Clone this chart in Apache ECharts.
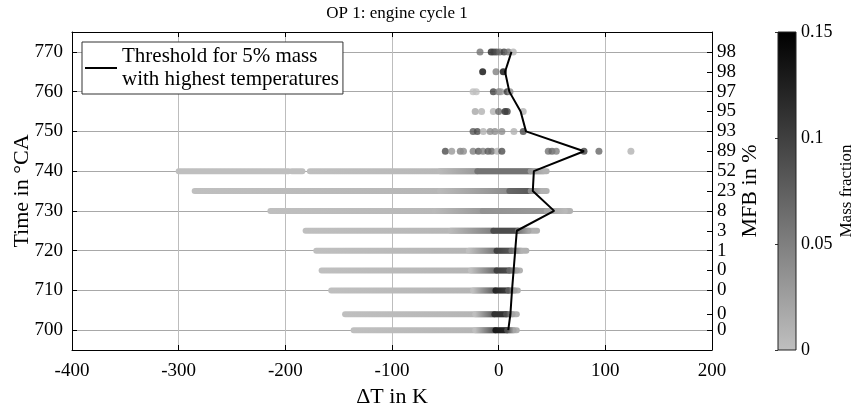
<!DOCTYPE html>
<html><head><meta charset="utf-8">
<script src="https://cdn.jsdelivr.net/npm/echarts@6/dist/echarts.min.js"></script>
<style>html,body{margin:0;padding:0;background:#fff}#c{width:861px;height:410px}</style>
</head><body><div id="c"></div>
<script>
// crank-angle rows (°CA)
const rows = [700, 704, 710, 715, 720, 725, 730, 735, 740, 745, 750, 755, 760, 765, 770];
// mass fraction burned labels (right axis)
const mfbLabels = ['0', '0', '0', '0', '1', '3', '8', '23', '52', '89', '93', '95', '97', '98', '98'];
// threshold ΔT for 5% mass with highest temperatures
const threshold = [9, 11, 12.5, 14, 15.5, 17, 52, 32, 33, 80, 25.6, 20.6, 10, 6, 12];
// dense rows drawn as strips: [row °CA, ΔT from, ΔT to, mass fraction at start, at end]
const strips = [
  [700, -136, 17, 0, 0.01], [700, -22, -3, 0, 0.09], [700, -3, 8, 0.13, 0.12], [700, 8, 14, 0.09, 0.02],
  [704, -144, 17, 0, 0.01], [704, -22, -4, 0, 0.08], [704, -4, 7, 0.11, 0.11], [704, 7, 13, 0.09, 0.02],
  [710, -157, 18, 0, 0.01], [710, -24, -3, 0, 0.08], [710, -3, 9, 0.12, 0.1], [710, 9, 15, 0.08, 0.02],
  [715, -166, 20, 0, 0.01], [715, -26, -2, 0, 0.07], [715, -2, 10, 0.1, 0.09], [715, 10, 17, 0.07, 0.02],
  [720, -171, 26, 0, 0.01], [720, -28, -2, 0, 0.06], [720, -2, 12, 0.1, 0.08], [720, 12, 21, 0.06, 0.01],
  [725, -181, 36, 0, 0.01], [725, -45, -5, 0.005, 0.05], [725, -5, 18, 0.09, 0.09], [725, 18, 28, 0.06, 0.02],
  [730, -214, 67, 0, 0.01], [730, -60, -15, 0.005, 0.03], [730, -15, 45, 0.035, 0.03], [730, 45, 62, 0.02, 0.005],
  [735, -285, 45, 0, 0.01], [735, -55, 10, 0.005, 0.04], [735, 10, 30, 0.07, 0.08], [735, 30, 40, 0.04, 0.01],
  [740, -300, -197, 0, 0], [740, -194, -184, 0, 0], [740, -177, 45, 0, 0.01],
  [740, -55, -20, 0.005, 0.03], [740, -20, 30, 0.06, 0.06], [740, 30, 42, 0.03, 0.01]
];
// sparse rows drawn as single dots: [row °CA, ΔT, mass fraction]
const dots = [
  [745, -50, 0.09], [745, -44, 0.03], [745, -36, 0.05], [745, -33, 0.04], [745, -24, 0.05], [745, -19, 0.08],
  [745, -14.7, 0.05], [745, -10, 0.08], [745, -6.5, 0.07], [745, -1.3, 0.01], [745, 3, 0.09],
  [745, 46.5, 0.06], [745, 50, 0.07], [745, 54, 0.05], [745, 80, 0.1], [745, 94, 0.07], [745, 124, 0.01],
  [750, -24, 0.08], [750, -20, 0.09], [750, -14.4, 0.01], [750, -8, 0.04], [750, -3.5, 0.04], [750, 3, 0.04],
  [750, 14.3, 0.01], [750, 23, 0.09],
  [755, -22, 0.02], [755, -16, 0.01], [755, -5, 0.01], [755, 0, 0.07], [755, 6, 0.12], [755, 8, 0.1], [755, 23, 0.01],
  [760, -24, 0], [760, -21, 0], [760, -5, 0.1], [760, 0, 0.05], [760, 2, 0.03], [760, 8, 0.11], [760, 10.6, 0.04],
  [765, -15, 0.14], [765, -2.5, 0.05], [765, 4.3, 0.14],
  [770, -17.5, 0.06], [770, -7, 0.12], [770, -4.5, 0.1], [770, -2, 0.09], [770, 1, 0.07], [770, 5, 0.1],
  [770, 9, 0.06], [770, 13.7, 0.01]
];
const xTicks = { min: -400, max: 200, step: 100 };
const yRange = { min: 695, max: 775 };
const colorbarRange = [0, 0.15];

const FONT = 'Liberation Serif';
const LIGHT = 191;
function mfColor(m) {
  const g = Math.round(LIGHT * (1 - Math.max(0, Math.min(m, 0.15)) / 0.15));
  return 'rgb(' + g + ',' + g + ',' + g + ')';
}
const lineName = 'Threshold for 5% mass\nwith highest temperatures';
const txt = { fontFamily: FONT, color: '#000' };
// right-hand labels split over two overlaid axes so that none is auto-hidden
const rowsEven = rows.filter(function (r, i) { return i % 2 === 0; });
const rowsOdd = rows.filter(function (r, i) { return i % 2 === 1; });
function mfbFmt(v) { const i = rows.indexOf(v); return i >= 0 ? mfbLabels[i] : ''; }
function rightAxis(vals, main) {
  return {
    type: 'value', gridIndex: 0, position: 'right', offset: 0, min: yRange.min, max: yRange.max,
    axisLine: { show: main, onZero: false, lineStyle: { color: '#000' } },
    axisTick: { show: main, inside: true, length: 5, customValues: rows, lineStyle: { color: '#000' } },
    axisLabel: Object.assign({
      fontSize: 19, margin: 5, customValues: vals, hideOverlap: false,
      showMinLabel: true, showMaxLabel: true, formatter: mfbFmt
    }, txt),
    splitLine: { show: false },
    name: main ? 'MFB in %' : '', nameLocation: 'middle', nameGap: 27, nameRotate: 90, nameMoveOverlap: false,
    nameTextStyle: Object.assign({ fontSize: 22 }, txt)
  };
}

const chart = echarts.init(document.getElementById('c'), null, { renderer: 'canvas' });
chart.setOption({
  animation: false,
  backgroundColor: '#fff',
  title: {
    text: 'OP 1: engine cycle 1', left: 392, top: 0, textAlign: 'center',
    textStyle: Object.assign({ fontSize: 17, fontWeight: 'normal' }, txt)
  },
  legend: {
    data: [lineName], left: 82, top: 42, orient: 'vertical',
    backgroundColor: '#fff', borderColor: '#333', borderWidth: 1, borderRadius: 0,
    padding: [3, 4, 3, 3], itemWidth: 32, itemHeight: 2, icon: 'rect', itemGap: 0,
    textStyle: Object.assign({ fontSize: 21, lineHeight: 23 }, txt)
  },
  grid: [
    { left: 72, top: 32, width: 640, height: 318, outerBoundsMode: 'none', containLabel: false },
    { left: 778, top: 32, width: 18, height: 318, outerBoundsMode: 'none', containLabel: false }
  ],
  xAxis: [
    {
      type: 'value', gridIndex: 0, position: 'bottom', min: xTicks.min, max: xTicks.max, interval: xTicks.step,
      axisLine: { show: true, onZero: false, lineStyle: { color: '#000' } },
      axisTick: { show: true, inside: true, length: 5, lineStyle: { color: '#000' } },
      axisLabel: Object.assign({ fontSize: 19, margin: 12 }, txt),
      splitLine: { show: true, lineStyle: { color: '#bdbdbd', width: 1 } },
      name: 'ΔT in K', nameLocation: 'middle', nameGap: 36,
      nameTextStyle: Object.assign({ fontSize: 22 }, txt)
    },
    {
      type: 'value', gridIndex: 0, position: 'top', min: xTicks.min, max: xTicks.max, interval: xTicks.step,
      axisLine: { show: true, onZero: false, lineStyle: { color: '#000' } },
      axisTick: { show: true, inside: true, length: 5, lineStyle: { color: '#000' } },
      axisLabel: { show: false }, splitLine: { show: false }
    },
    {
      type: 'value', gridIndex: 1, min: 0, max: 1, show: false
    }
  ],
  yAxis: [
    {
      type: 'value', gridIndex: 0, position: 'left', min: yRange.min, max: yRange.max, splitNumber: 8,
      axisLine: { show: true, onZero: false, lineStyle: { color: '#000' } },
      axisTick: { show: true, inside: true, length: 5, lineStyle: { color: '#000' } },
      axisLabel: Object.assign({ fontSize: 19, margin: 9, showMinLabel: false, showMaxLabel: false }, txt),
      splitLine: { show: true, lineStyle: { color: '#a8a8a8', width: 1 } },
      name: 'Time in °CA', nameLocation: 'middle', nameGap: 39, nameRotate: 90, nameMoveOverlap: false,
      nameTextStyle: Object.assign({ fontSize: 22 }, txt)
    },
    rightAxis(rowsEven, true),
    {
      type: 'value', gridIndex: 1, position: 'right', min: colorbarRange[0], max: colorbarRange[1], interval: 0.05,
      axisLine: { show: false },
      axisTick: { show: true, inside: true, length: 3, lineStyle: { color: '#333' } },
      axisLabel: Object.assign({ fontSize: 18, margin: 5, formatter: function (v) { return String(+v.toFixed(2)); } }, txt),
      splitLine: { show: false },
      name: 'Mass fraction', nameLocation: 'middle', nameGap: 42, nameRotate: 90, nameMoveOverlap: false,
      nameTextStyle: Object.assign({ fontSize: 17 }, txt)
    },
    rightAxis(rowsOdd, false)
  ],
  visualMap: [{
    type: 'continuous', show: false, seriesIndex: 1, dimension: 2,
    min: colorbarRange[0], max: colorbarRange[1], inRange: { color: [mfColor(0), '#000000'] }
  }],
  series: [
    {
      type: 'custom', name: 'strips', xAxisIndex: 0, yAxisIndex: 0, clip: true, z: 2,
      dimensions: ['row', 'x1', 'x2', 'm1', 'm2'],
      encode: { x: ['x1', 'x2'], y: 'row' },
      data: strips,
      renderItem: function (params, api) {
        const y = api.value(0), p1 = api.coord([api.value(1), y]), p2 = api.coord([api.value(2), y]);
        return {
          type: 'line',
          shape: { x1: p1[0], y1: p1[1], x2: p2[0], y2: p2[1] },
          style: {
            stroke: {
              type: 'linear', global: true, x: p1[0], y: p1[1], x2: p2[0] + 0.01, y2: p2[1],
              colorStops: [{ offset: 0, color: mfColor(api.value(3)) }, { offset: 1, color: mfColor(api.value(4)) }]
            },
            lineWidth: 6, lineCap: 'round'
          }
        };
      }
    },
    {
      type: 'scatter', name: 'dots', xAxisIndex: 0, yAxisIndex: 0, z: 3,
      symbol: 'circle', symbolSize: 7,
      data: dots.map(function (d) { return [d[1], d[0], d[2]]; })
    },
    {
      type: 'line', name: lineName, xAxisIndex: 0, yAxisIndex: 0, z: 5,
      color: '#000', symbol: 'none', lineStyle: { color: '#000', width: 2 },
      data: rows.map(function (r, i) { return [threshold[i], r]; })
    },
    {
      type: 'custom', name: 'colorbar', xAxisIndex: 2, yAxisIndex: 2,
      data: [colorbarRange],
      renderItem: function (params, api) {
        const a = api.coord([0, api.value(1)]), b = api.coord([1, api.value(0)]);
        return {
          type: 'rect',
          shape: { x: a[0], y: a[1], width: b[0] - a[0], height: b[1] - a[1] },
          style: {
            fill: {
              type: 'linear', global: true, x: 0, y: b[1], x2: 0, y2: a[1],
              colorStops: [{ offset: 0, color: mfColor(0) }, { offset: 1, color: '#000' }]
            },
            stroke: '#222', lineWidth: 1
          }
        };
      }
    }
  ]
});
</script>
</body></html>
